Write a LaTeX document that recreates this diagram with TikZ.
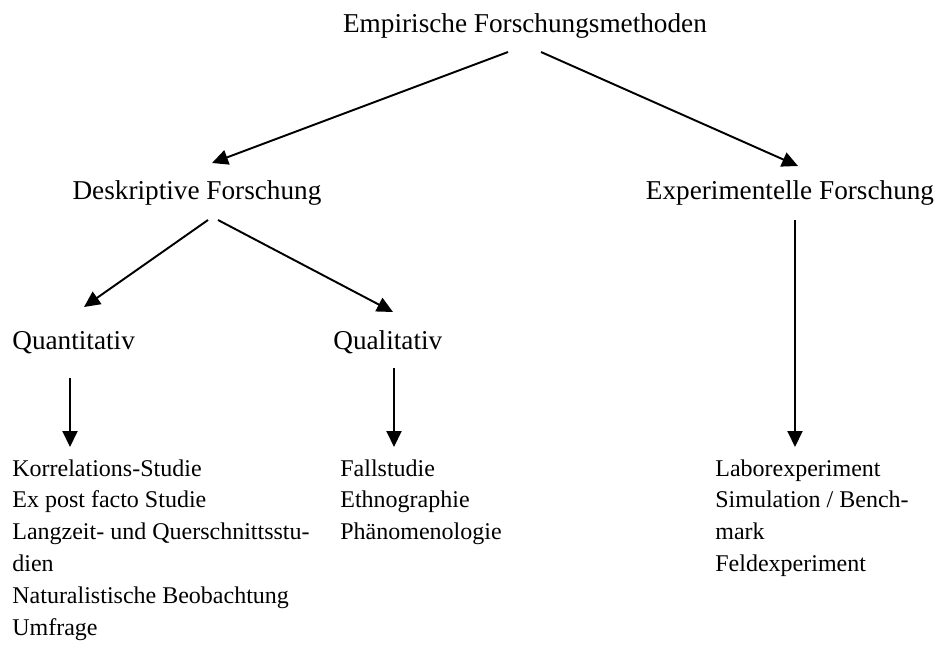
\documentclass[tikz,border=0pt]{standalone}
\usepackage{fontspec}
\setmainfont{Liberation Serif}
\usetikzlibrary{arrows.meta,calc}
\begin{document}
\begin{tikzpicture}[x=0.02cm, y=-0.02cm,
    lbl/.style={inner sep=0pt, font=\fontsize{15.5pt}{18.14pt}\selectfont},
    lst/.style={inner sep=0pt, align=left, anchor=north west, font=\fontsize{13.66pt}{18.14pt}\selectfont},
    pfeil/.style={-{Triangle[length=0.32cm, width=0.3cm]}, line width=1.1pt}]
    \useasboundingbox (0,0) rectangle (937,650);

    \node[lbl, anchor=base] (root) at (525,32) {Empirische Forschungsmethoden};
    \node[lbl, anchor=base] (desk) at (197,199) {Deskriptive Forschung};
    \node[lbl, anchor=base] (exp) at (790,199) {Experimentelle Forschung};
    \node[lbl, anchor=base west] (quant) at (12,349) {Quantitativ};
    \node[lbl, anchor=base west] (qual) at (333,349) {Qualitativ};

    \node[lst] (quantlist) at (12,459) {Korrelations-Studie\\Ex post facto Studie\\Langzeit- und Querschnittsstu-\\dien\\Naturalistische Beobachtung\\Umfrage};
    \node[lst] (quallist) at (340,459) {Fallstudie\\Ethnographie\\Phänomenologie};
    \node[lst] (explist) at (715,459) {Laborexperiment\\Simulation / Bench-\\mark\\Feldexperiment};

    \draw[pfeil] ($(root.base)+(-17,20)$) -- ($(desk.base)+(15,-36)$);
    \draw[pfeil] ($(root.base)+(16,20)$) -- ($(exp.base)+(8,-33)$);
    \draw[pfeil] ($(desk.base)+(11,21)$) -- ($(quant.base west)+(72,-42)$);
    \draw[pfeil] ($(desk.base)+(21,21)$) -- ($(qual.base west)+(60,-37)$);
    \draw[pfeil] ($(quant.base west)+(58,29)$) -- ($(quantlist.north west)+(58,-12)$);
    \draw[pfeil] ($(qual.base west)+(61,19)$) -- ($(quallist.north west)+(54,-12)$);
    \draw[pfeil] ($(exp.base)+(5,21)$) -- ($(explist.north west)+(80,-12)$);
\end{tikzpicture}
\end{document}
